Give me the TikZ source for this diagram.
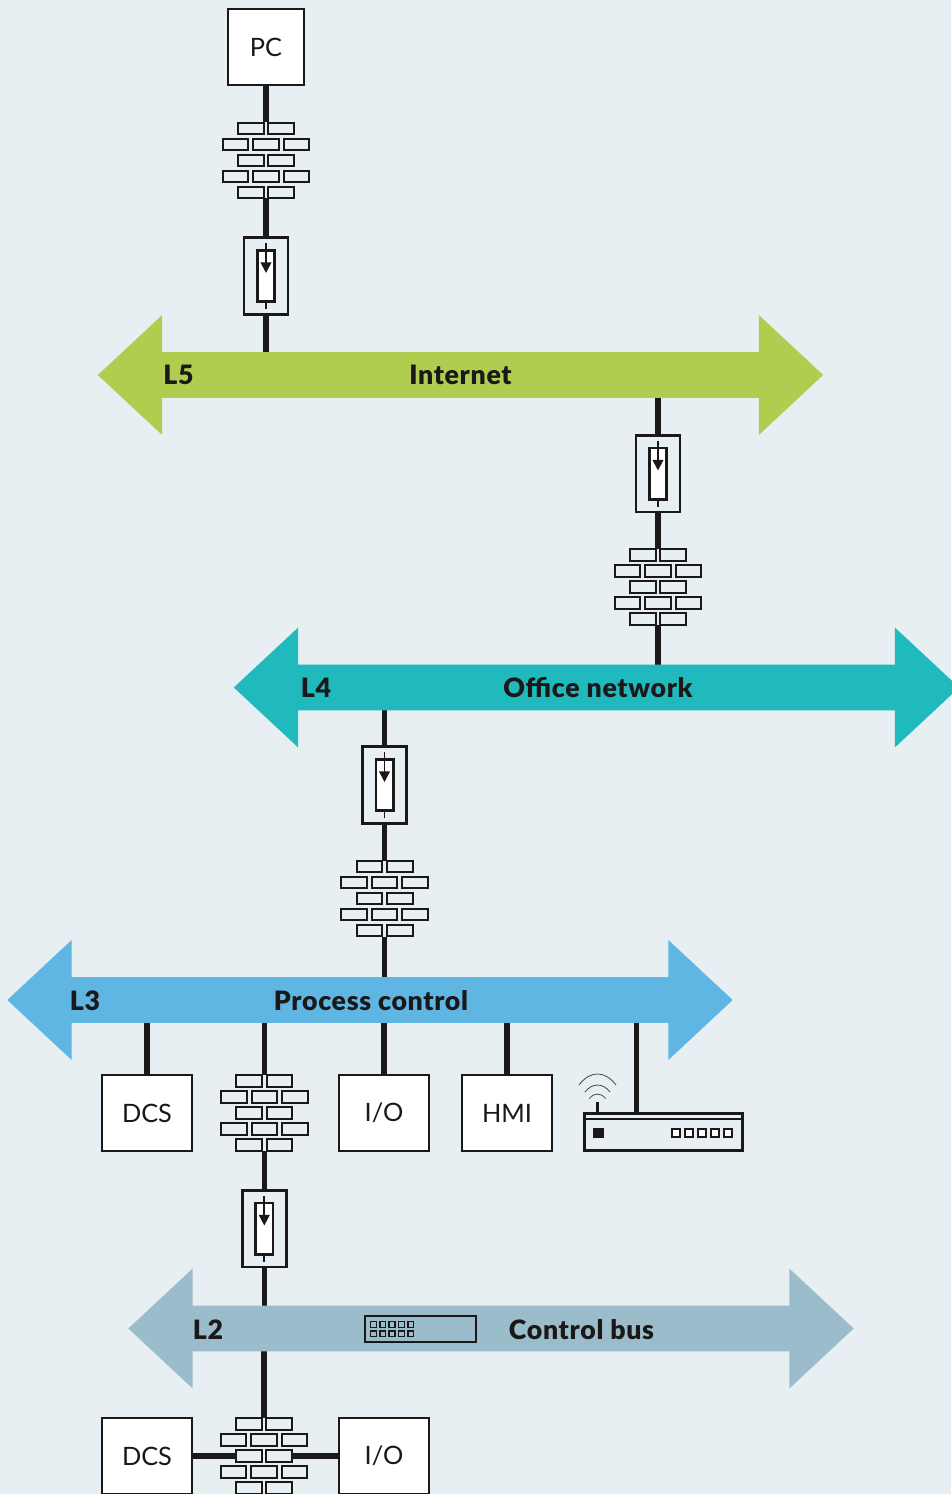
\documentclass[tikz,border=0pt]{standalone}
\usepackage{fontspec}
\setmainfont{Lato}
\newfontfamily\bandfont[LetterSpace=2.6]{Lato Black}
\usetikzlibrary{arrows.meta,shapes.arrows,backgrounds}
\definecolor{pagebg}{RGB}{231,239,243}
\definecolor{inkblack}{RGB}{26,24,24}
\definecolor{netgreen}{RGB}{176,205,79}
\definecolor{netteal}{RGB}{32,185,189}
\definecolor{netblue}{RGB}{95,182,227}
\definecolor{netgrey}{RGB}{155,189,203}
\tikzset{
  wire/.style={draw=inkblack,line width=4pt},
  unitbox/.style={draw=inkblack,fill=white,line width=2pt,minimum height=57pt,font=\fontsize{19}{19}\selectfont,text=inkblack,inner sep=0pt},
  brick/.style={draw=inkblack,line width=1.5pt,minimum width=19.2pt,minimum height=8.3pt,inner sep=0pt},
  netarrow/.style={double arrow,draw=none,minimum height=544pt,minimum width=89.5pt,double arrow head extend=27.7pt,double arrow tip angle=86,inner xsep=0pt,inner ysep=17pt},
  netlabel/.style={font=\fontsize{20}{20}\bandfont,text=inkblack,inner sep=0pt},
  wall/.pic={
    \foreach \yy in {-32,32} \foreach \xx in {-15.2,15.2} \node[brick] at (\xx,\yy) {};
    \foreach \yy in {-16,16} \foreach \xx in {-30.6,0,30.6} \node[brick] at (\xx,\yy) {};
    \node[brick] (-l) at (-15.2,0) {};
    \node[brick] (-r) at (15.2,0) {};
    \coordinate (-top) at (0,38);
    \coordinate (-bot) at (0,-38);
  },
  gate/.pic={
    \node[draw=inkblack,line width=2pt,minimum width=33pt,minimum height=57.5pt,inner sep=0pt] (-box) at (0,0) {};
    \node[draw=inkblack,fill=white,line width=2pt,minimum width=13pt,minimum height=38.5pt,inner sep=0pt] at (0,0) {};
    \draw[draw=inkblack,line width=1.4pt,-{Triangle[length=8pt,width=8pt]}] (0,33) -- (0,3);
    \draw[draw=inkblack,line width=1.4pt] (0,-26) -- (0,-33);
  },
}
\begin{document}
\begin{tikzpicture}[x=0.75pt,y=0.75pt,yscale=-1,xscale=1]
\useasboundingbox (0,0) rectangle (951,1494);
\begin{pgfonlayer}{background}
\fill[pagebg] (0,0) rectangle (951,1494);
\end{pgfonlayer}

%network bands
\node[netarrow,fill=netgreen] (Lfive) at (460.5,375) {};
\node[netarrow,fill=netteal] (Lfour) at (596.5,687.5) {};
\node[netarrow,fill=netblue] (Lthree) at (370,1000) {};
\node[netarrow,fill=netgrey] (Ltwo) at (491,1328.5) {};
\node[netlabel] (tfive) at (178.5,375) {L5};
\node[netlabel] (nfive) at (460.5,375) {Internet};
\node[netlabel] (tfour) at (316,688) {L4};
\node[netlabel] (nfour) at (598,688) {Office network};
\node[netlabel] (tthree) at (85,1000.5) {L3};
\node[netlabel] (nthree) at (371,1000.5) {Process control};
\node[netlabel] (ttwo) at (208,1329.5) {L2};
\node[netlabel] (ntwo) at (581.5,1329.5) {Control bus};

%units
\node[unitbox,minimum width=57pt] (pc) at (266,47) {PC};
\node[unitbox,minimum width=67.5pt] (dcsa) at (147,1113) {DCS};
\node[unitbox,minimum width=67.5pt] (ioa) at (384,1113) {I/O};
\node[unitbox,minimum width=67.5pt] (hmi) at (507,1113) {HMI};
\node[unitbox,minimum width=67.5pt] (dcsb) at (147,1456) {DCS};
\node[unitbox,minimum width=67.5pt] (iob) at (384,1456) {I/O};

%firewalls and gateways
\pic (wa) at (266,160.5) {wall};
\pic (wb) at (658,587) {wall};
\pic (wc) at (384.5,898.5) {wall};
\pic (wd) at (264.3,1113) {wall};
\pic (we) at (264,1456) {wall};
\pic (ga) at (266,276) {gate};
\pic (gb) at (658,473.5) {gate};
\pic (gc) at (384.5,785) {gate};
\pic (gd) at (264.3,1228.5) {gate};

%router
\node[draw=inkblack,line width=1.8pt,minimum width=118.5pt,minimum height=28pt,inner sep=0pt] (router) at (663.5,1132) {};
\draw[draw=inkblack,line width=1pt] (584,1119) -- (743,1119);
\node[fill=inkblack,minimum size=8pt,inner sep=0pt] (led) at (598.5,1133) {};
\foreach \xx in {676,689,702,715,728} \node[draw=inkblack,fill=white,line width=1.4pt,minimum size=6.4pt,inner sep=0pt] at (\xx,1133) {};
\coordinate (uplink) at (636.5,1113);
\coordinate (aerial) at (597.5,1113);
\draw[inkblack,line width=1.6pt] (aerial) -- ++(0,-11);
\draw[inkblack!80,line width=0.6pt] (579,1085) .. controls (590,1070.3) and (605,1070.3) .. (616,1085);
\draw[inkblack!80,line width=0.6pt] (585,1092) .. controls (592,1082.7) and (603,1082.7) .. (610,1092);
\draw[inkblack!80,line width=0.6pt] (589.5,1098.5) .. controls (594,1092.5) and (601,1092.5) .. (605.5,1098.5);

%switch
\node[draw=inkblack,line width=1.4pt,minimum width=83pt,minimum height=19.5pt,inner sep=0pt] (switch) at (420.5,1329) {};
\foreach \xx in {373.3,382.7,392,401.3,410.7} \foreach \yy in {1324.3,1333.7} \node[draw=inkblack,line width=1.1pt,minimum size=4.4pt,inner sep=0pt] at (\xx,\yy) {};

%connectors
\begin{pgfonlayer}{background}
\draw[wire] (pc.south) -- (wa-top);
\draw[wire] (wa-bot) -- (ga-box.north);
\draw[wire] (ga-box.south) -- (ga-box.south |- Lfive.center);
\draw[wire] (gb-box.north |- Lfive.center) -- (gb-box.north);
\draw[wire] (gb-box.south) -- (wb-top);
\draw[wire] (wb-bot) -- (wb-bot |- Lfour.center);
\draw[wire] (gc-box.north |- Lfour.center) -- (gc-box.north);
\draw[wire] (gc-box.south) -- (wc-top);
\draw[wire] (wc-bot) -- (wc-bot |- Lthree.center);
\draw[wire] (dcsa.north |- Lthree.center) -- (dcsa.north);
\draw[wire] (wd-top |- Lthree.center) -- (wd-top);
\draw[wire] (ioa.north |- Lthree.center) -- (ioa.north);
\draw[wire] (hmi.north |- Lthree.center) -- (hmi.north);
\draw[wire] (uplink |- Lthree.center) -- (uplink);
\draw[wire] (wd-bot) -- (gd-box.north);
\draw[wire] (gd-box.south) -- (gd-box.south |- Ltwo.center);
\draw[wire] (we-top |- Ltwo.center) -- (we-top);
\draw[wire] (dcsb.east) -- (we-l.west);
\draw[wire] (we-r.east) -- (iob.west);
\end{pgfonlayer}
\end{tikzpicture}
\end{document}
